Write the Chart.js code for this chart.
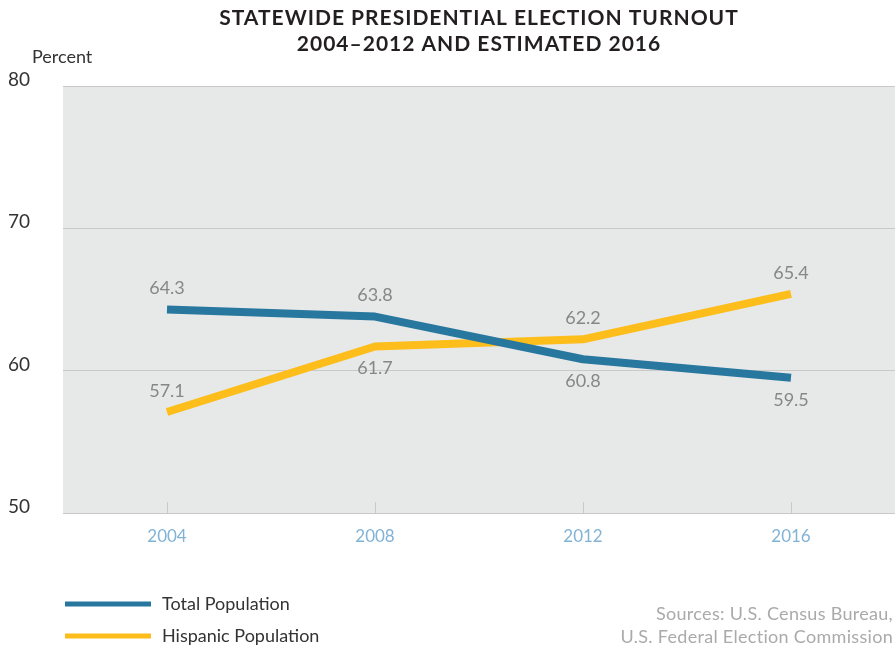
<!DOCTYPE html>
<html>
<head>
<meta charset="utf-8">
<script src="https://cdn.jsdelivr.net/npm/chart.js@4/dist/chart.umd.min.js"></script>
<style>
  html, body { margin: 0; padding: 0; background: #fff; }
  #wrap { width: 895px; height: 648px; }
</style>
</head>
<body>
<div id="wrap"><canvas id="chart" width="895" height="648"></canvas></div>
<script>
const years = ['2004', '2008', '2012', '2016'];
const totalPopulation = [64.3, 63.8, 60.8, 59.5];
const hispanicPopulation = [57.1, 61.7, 62.2, 65.4];
const yTicks = [50, 60, 70, 80];

const titleLines = ['STATEWIDE PRESIDENTIAL ELECTION TURNOUT', '2004\u20132012 AND ESTIMATED 2016'];
const sourceLines = ['Sources: U.S. Census Bureau,', 'U.S. Federal Election Commission'];

const FONT = 'Lato, "Noto Sans", sans-serif';
const BLUE = '#28779e';
const YELLOW = '#fdbd1b';

// gray plot background, x tick stubs
const plotBackground = {
  id: 'plotBackground',
  beforeDraw(chart) {
    const { ctx, chartArea: a } = chart;
    ctx.save();
    ctx.fillStyle = '#e7e8e8';
    ctx.fillRect(a.left, a.top, a.right - a.left, a.bottom - a.top);
    ctx.restore();
  },
  beforeDatasetsDraw(chart) {
    const { ctx, chartArea: a } = chart;
    const x = chart.scales.x;
    ctx.save();
    ctx.strokeStyle = '#c8c9c9';
    ctx.lineWidth = 1;
    years.forEach((_, i) => {
      const px = Math.round(x.getPixelForValue(i)) + 0.5;
      ctx.beginPath();
      ctx.moveTo(px, a.bottom - 11);
      ctx.lineTo(px, a.bottom);
      ctx.stroke();
    });
    ctx.restore();
  }
};

// value labels next to each point
const valueLabels = {
  id: 'valueLabels',
  afterDatasetsDraw(chart) {
    const { ctx } = chart;
    ctx.save();
    ctx.font = '18px ' + FONT;
    ctx.fillStyle = '#878787';
    ctx.textAlign = 'center';
    ctx.textBaseline = 'middle';
    chart.data.datasets.forEach((ds, di) => {
      chart.getDatasetMeta(di).data.forEach((pt, i) => {
        const dy = ds.labelSide[i] === 'above' ? -21 : 22;
        ctx.fillText(ds.data[i].toFixed(1), pt.x, pt.y + dy);
      });
    });
    ctx.restore();
  }
};

// title, axis caption, legend, sources
const extras = {
  id: 'extras',
  afterDraw(chart) {
    const { ctx, chartArea: a } = chart;
    const cx = (a.left + a.right) / 2;
    ctx.save();
    ctx.textBaseline = 'middle';

    ctx.fillStyle = '#231f20';
    ctx.font = 'bold 21px ' + FONT;
    ctx.letterSpacing = '1px';
    ctx.textAlign = 'center';
    titleLines.forEach((t, i) => ctx.fillText(t, cx, 18 + i * 26));
    ctx.letterSpacing = '0px';

    ctx.fillStyle = '#333';
    ctx.font = '18px ' + FONT;
    ctx.textAlign = 'left';
    ctx.fillText('Percent', 32, 57);

    chart.data.datasets.forEach((ds, i) => {
      const y = 604 + i * 32;
      ctx.strokeStyle = ds.borderColor;
      ctx.lineWidth = 5;
      ctx.beginPath();
      ctx.moveTo(65, y);
      ctx.lineTo(151, y);
      ctx.stroke();
      ctx.fillStyle = '#333';
      ctx.fillText(ds.label, 162, y);
    });

    ctx.fillStyle = '#aaaaaa';
    ctx.textAlign = 'right';
    ctx.letterSpacing = '0.3px';
    sourceLines.forEach((t, i) => ctx.fillText(t, 893, 614 + i * 23));
    ctx.restore();
  }
};

new Chart(document.getElementById('chart'), {
  type: 'line',
  data: {
    labels: years,
    datasets: [
      {
        label: 'Total Population',
        data: totalPopulation,
        borderColor: BLUE,
        labelSide: ['above', 'above', 'below', 'below']
      },
      {
        label: 'Hispanic Population',
        data: hispanicPopulation,
        borderColor: YELLOW,
        labelSide: ['above', 'below', 'above', 'above']
      }
    ]
  },
  options: {
    responsive: false,
    animation: false,
    devicePixelRatio: 1,
    layout: { padding: { top: 86, bottom: 95, left: 0, right: 0 } },
    elements: {
      line: { borderWidth: 8, tension: 0, borderCapStyle: 'butt', borderJoinStyle: 'round' },
      point: { radius: 0, hoverRadius: 0 }
    },
    plugins: {
      legend: { display: false },
      title: { display: false },
      tooltip: { enabled: false }
    },
    scales: {
      x: {
        offset: true,
        afterFit(scale) { scale.height = 40; },
        grid: { display: false, drawTicks: false },
        border: { display: true, color: '#c8c9c9', width: 1 },
        ticks: { color: '#82b3d6', font: { family: FONT, size: 17 }, padding: 13 }
      },
      y: {
        min: 50,
        max: 80,
        afterFit(scale) { scale.width = 63; },
        afterBuildTicks(scale) { scale.ticks = yTicks.map(v => ({ value: v })); },
        grid: { color: '#c8c9c9', drawTicks: false },
        border: { display: false },
        ticks: { color: '#333', font: { family: FONT, size: 19 }, padding: 33, labelOffset: -6 }
      }
    }
  },
  plugins: [plotBackground, valueLabels, extras]
});
</script>
</body>
</html>
